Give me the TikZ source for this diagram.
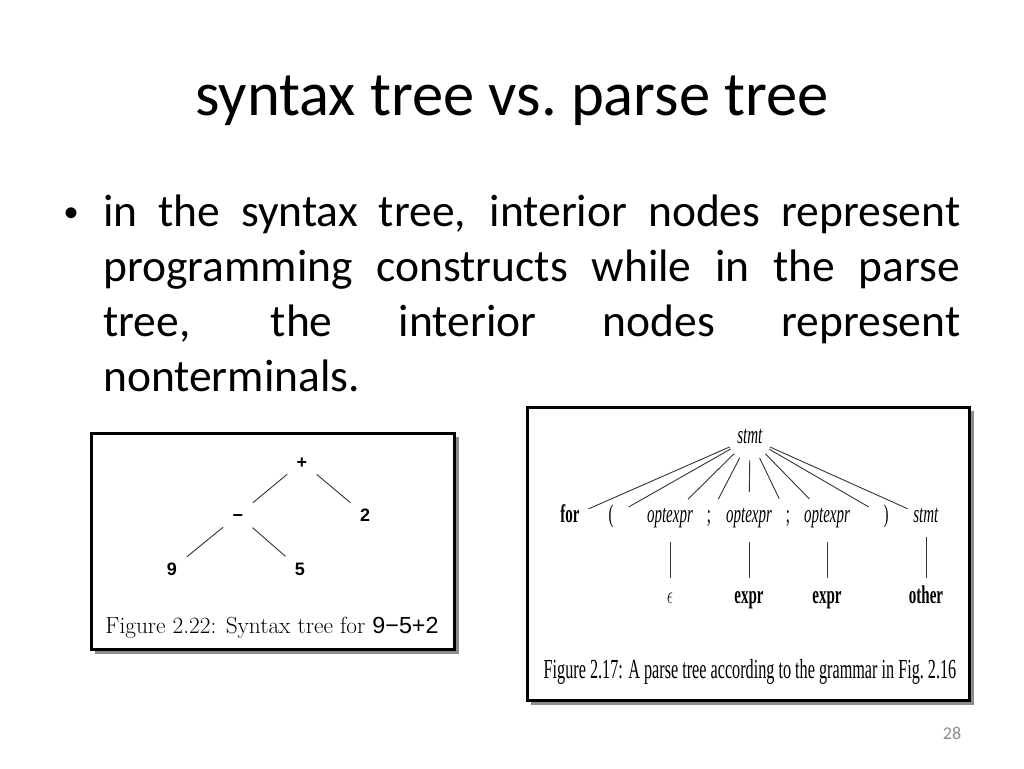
\documentclass[tikz,border=0pt]{standalone}
\usepackage{fontspec}
\usepackage{graphicx}
\newfontfamily\diapo{Carlito}
\newfontfamily\figsans{Liberation Sans}
\newfontfamily\figserif{Liberation Serif}
\newcommand{\alto}[1]{\scalebox{1}[1.7]{#1}}

\begin{document}
\begin{tikzpicture}[x=1pt,y=-1pt,
  titulo/.style={font=\diapo\fontsize{62.6}{75}\selectfont,anchor=base,inner sep=0pt},
  texto/.style={font=\diapo\fontsize{45.5}{55}\selectfont,anchor=base west,inner sep=0pt},
  caja/.style={draw=black,line width=3pt,fill=white},
  sombra/.style={fill=black!45},
  op/.style={circle,minimum size=38pt,inner sep=0pt,text height=13pt,text depth=0pt,font=\figsans\bfseries\fontsize{18}{18}\selectfont},
  nt/.style={circle,minimum size=40pt,inner sep=0pt,text height=15pt,text depth=5pt,font=\figserif\fontsize{15}{15}\selectfont},
  rama/.style={line width=0.9pt,black!80}]

%fondo de la diapositiva
\fill[white] (0,0) rectangle (1024,768);

%titulo
\node[titulo] (titulo) at (512,115) {syntax tree vs.\ parse tree};

%texto con vineta
\node[font=\figsans\fontsize{40}{40}\selectfont,anchor=base] (punto) at (72,226) {•};
\node[texto] (l1) at (103,226) {\makebox[857pt][s]{in the syntax tree, interior nodes represent}};
\node[texto] (l2) at (103,281) {\makebox[857pt][s]{programming constructs while in the parse}};
\node[texto] (l3) at (103,336) {\makebox[857pt][s]{tree, the interior nodes represent}};
\node[texto] (l4) at (103,391) {nonterminals.};

%figura izquierda: arbol sintactico
\fill[sombra] (95,437) rectangle (459,654);
\draw[caja] (91.5,433.5) rectangle (454.5,649.5);
\node[op] (mas) at (302,462) {+};
\node[op] (menos) at (238,515) {−};
\node[op] (dos) at (365,515) {2};
\node[op] (nueve) at (172,569) {9};
\node[op] (cinco) at (300,569) {5};
\foreach \a/\b in {mas/menos,mas/dos,menos/nueve,menos/cinco}
	\draw[rama] (\a) -- (\b);
\node[font=\fontsize{23.3}{23.3}\selectfont] (pie1) at (272,628) {Figure 2.22: Syntax tree for {\figsans 9−5+2}};

%figura derecha: arbol de analisis
\fill[sombra] (531,411) rectangle (974,705);
\draw[caja] (527.5,407.5) rectangle (969.5,700.5);
\node[nt,minimum size=44pt] (raiz) at (750,438) {\alto{\textit{stmt}}};
%hijos de la raiz
\foreach \x/\t [count=\i] in {570/\textbf{for},611/{(},670/\textit{optexpr},709/;,749/\textit{optexpr},788/;,827/\textit{optexpr},886/{)},926/\textit{stmt}}
	{\node[nt] (h\i) at (\x,517) {\alto{\t}};
	\draw[rama] (raiz) -- (h\i);}
%ultima fila
\foreach \i/\x/\t in {3/670/$\epsilon$,5/749/\textbf{expr},7/827/\textbf{expr},9/926/\textbf{other}}
	{\node[nt] (b\i) at (\x,598) {\alto{\t}};
	\draw[rama] (h\i) -- (b\i);}
\node[font=\figserif\fontsize{16.2}{16.2}\selectfont] (pie2) at (750,672) {\alto{Figure 2.17: A parse tree according to the grammar in Fig.~2.16}};

%numero de diapositiva
\node[font=\diapo\fontsize{18}{18}\selectfont,text=black!45] (num) at (952,733) {28};
\end{tikzpicture}
\end{document}
